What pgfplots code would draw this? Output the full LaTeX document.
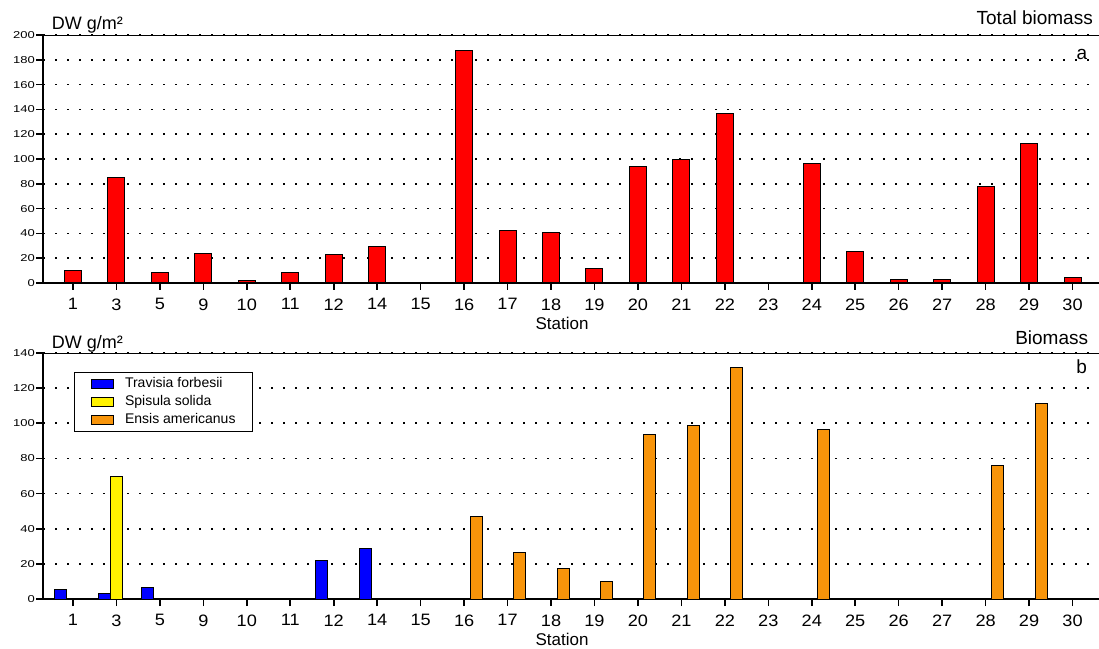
\documentclass[border=0pt]{standalone}
\usepackage{fontspec}
\setmainfont{Liberation Sans}
\newfontfamily\ytf[FakeStretch=1.3]{Liberation Sans}
\newfontfamily\xtf[FakeStretch=1.1]{Liberation Sans}
\usepackage{pgfplots}
\pgfplotsset{compat=1.18}
\definecolor{ensis}{RGB}{247,148,10}

\pgfplotsset{
 panel/.style={
  scale only axis, width=1056pt,
  xmin=-0.69, xmax=23.61, ymin=0,
  axis x line*=bottom, axis y line*=left,
  axis line style={line width=1.7pt, -},
  xtick={0,...,23},
  xticklabels={1,3,5,9,10,11,12,14,15,16,17,18,19,20,21,22,23,24,25,26,27,28,29,30},
  tick style={line width=1.6pt, black},
  tick align=outside, major tick length=7pt,
  ymajorgrids, grid style={black, line width=1.6pt, dash pattern=on 2.4pt off 9.6pt},
  /pgf/number format/assume math mode=true,
  yticklabel style={font=\ytf\fontsize{10}{12}\selectfont, inner xsep=1pt},
  xticklabel style={font=\xtf\fontsize{16.5}{18}\selectfont, yshift=-5pt},
  ybar,
 },
 swatch/.style={legend image code/.code={\draw[##1,line width=1pt] (0pt,-4.5pt) rectangle (22pt,4.5pt);}},
}

\begin{document}
\begin{tikzpicture}
\path[use as bounding box] (0pt,0pt) rectangle (1099pt,648pt);

% ---------- panel a ----------
\begin{axis}[panel, at={(43pt,365pt)}, anchor=south west, height=248pt,
  ymax=200, ytick={0,20,...,200}, bar width=17pt]
\addplot[fill=red, draw=black, line width=1pt] coordinates {
 (0,9.7) (1,85) (2,8.6) (3,23.6) (4,2) (5,8.3) (6,23) (7,29.5)
 (9,187.7) (10,42.2) (11,40.9) (12,11.8) (13,94.1) (14,99.2) (15,136.6)
 (17,96.3) (18,25.8) (19,3.2) (20,3.2) (21,78.2) (22,112.4) (23,4.6)};
\draw[line width=0.9pt] (rel axis cs:0,1) -- (rel axis cs:1,1);
\end{axis}

% ---------- panel b ----------
\begin{axis}[panel, at={(43pt,49pt)}, anchor=south west, height=246pt,
  ymax=140, ytick={0,20,...,140}, bar width=12pt,
  legend style={at={(0.0294,0.924)}, anchor=north west, draw=black, line width=1pt,
    font=\fontsize{14}{16}\selectfont, row sep=4.8pt, column sep=11pt,
    inner xsep=16.5pt, inner ysep=5.5pt,
    nodes={inner sep=0pt, text height=10pt, text depth=3pt}},
  legend cell align=left]
\addplot[fill=blue, draw=black, line width=1pt, bar shift=-12pt, swatch] coordinates {
 (0,5.3) (1,3) (2,6.4) (6,21.8) (7,28.8)};
\addlegendentry{Travisia forbesii}
\addplot[fill=yellow, draw=black, line width=1pt, bar shift=0pt, swatch] coordinates {
 (1,69.6)};
\addlegendentry{Spisula solida}
\addplot[fill=ensis, draw=black, line width=1pt, bar shift=12pt, swatch] coordinates {
 (9,47) (10,26.2) (11,17.6) (12,10) (13,93.5) (14,98.8) (15,131.5)
 (17,96.2) (21,76) (22,111.5)};
\addlegendentry{Ensis americanus}
\draw[line width=0.9pt] (rel axis cs:0,1) -- (rel axis cs:1,1);
\end{axis}

% ---------- texts ----------
\node[anchor=base west, inner sep=0pt, font=\fontsize{18}{20}\selectfont] at (51.7pt,618.7pt) {DW g/m²};
\node[anchor=base east, inner sep=0pt, font=\fontsize{19}{21}\selectfont] at (1093pt,623pt) {Total biomass};
\node[anchor=base east, inner sep=0pt, font=\fontsize{19}{21}\selectfont] at (1087.3pt,588pt) {a};
\node[anchor=base, inner sep=0pt, font=\fontsize{17}{19}\selectfont] at (562pt,318pt) {Station};

\node[anchor=base west, inner sep=0pt, font=\fontsize{18}{20}\selectfont] at (51.7pt,299.7pt) {DW g/m²};
\node[anchor=base east, inner sep=0pt, font=\fontsize{19}{21}\selectfont] at (1088.3pt,303pt) {Biomass};
\node[anchor=base east, inner sep=0pt, font=\fontsize{19}{21}\selectfont] at (1087pt,274.7pt) {b};
\node[anchor=base, inner sep=0pt, font=\fontsize{17}{19}\selectfont] at (562pt,3pt) {Station};
\end{tikzpicture}
\end{document}
